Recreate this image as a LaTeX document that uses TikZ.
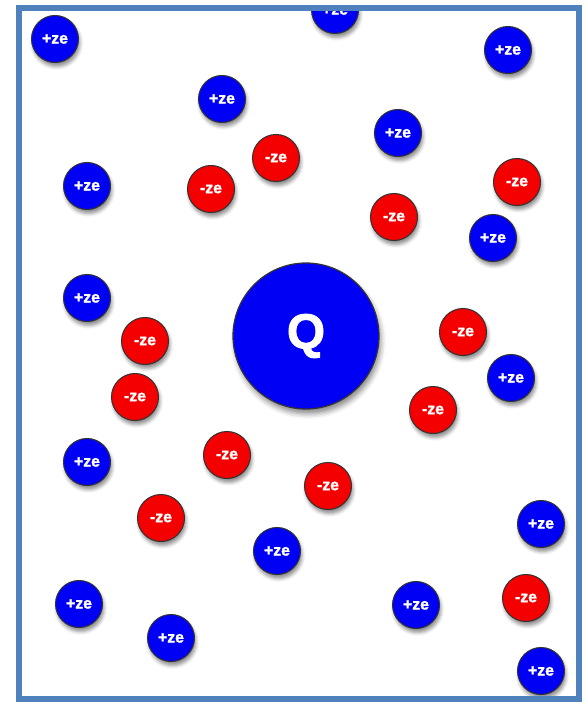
\documentclass[tikz,border=0pt]{standalone}
\usepackage{fontspec}
\setmainfont{Liberation Sans}
\newfontfamily\ionfont[BoldFeatures={FakeBold=1.6}]{Liberation Sans}
\usepackage{tikz}
\usetikzlibrary{shadows.blur}
\definecolor{framecol}{HTML}{4F81BD}
\definecolor{posblue}{HTML}{0000F5}
\definecolor{negred}{HTML}{F50000}
\tikzset{
  ion/.style={circle, draw=black!80, line width=0.6pt, minimum size=0.94cm,
              inner sep=0pt, text=white, font=\ionfont\small\bfseries,
              blur shadow={shadow xshift=0.03cm, shadow yshift=-0.08cm, shadow blur radius=0.07cm,
                           shadow opacity=45}},
  cation/.style={ion, fill=posblue},
  anion/.style={ion, fill=negred},
  big/.style={circle, draw=black!80, line width=0.7pt, fill=posblue, minimum size=2.92cm,
              inner sep=0pt, text=white, font=\ionfont\fontsize{28}{30}\selectfont\bfseries,
              blur shadow={shadow xshift=0.04cm, shadow yshift=-0.1cm, shadow blur radius=0.1cm,
                           shadow opacity=45}},
  rim/.style={draw=framecol, line width=0.11cm},
}

\begin{document}
\begin{tikzpicture}[x=0.02cm,y=-0.02cm]
  \useasboundingbox (0,0) rectangle (587,705);
  \begin{scope}
    \clip (19,8) rectangle (579,699);
    % central charge
    \node[big] (Q) at (306,336) {Q};
    % positive ions
    \node[cation] (p1) at (55,39) {+ze};
    \node[cation] (p2) at (335,10) {+ze};
    \node[cation] (p3) at (508,50) {+ze};
    \node[cation] (p4) at (222,99) {+ze};
    \node[cation] (p5) at (398,133) {+ze};
    \node[cation] (p6) at (87,186) {+ze};
    \node[cation] (p7) at (493,238) {+ze};
    \node[cation] (p8) at (87,298) {+ze};
    \node[cation] (p9) at (511,378) {+ze};
    \node[cation] (p10) at (87,462) {+ze};
    \node[cation] (p11) at (541,524) {+ze};
    \node[cation] (p12) at (277,551) {+ze};
    \node[cation] (p13) at (79,604) {+ze};
    \node[cation] (p14) at (416,605) {+ze};
    \node[cation] (p15) at (171,638) {+ze};
    \node[cation] (p16) at (541,671) {+ze};
    % negative ions
    \node[anion] (n1) at (276,158) {-ze};
    \node[anion] (n2) at (211,189) {-ze};
    \node[anion] (n3) at (517,182) {-ze};
    \node[anion] (n4) at (394,217) {-ze};
    \node[anion] (n5) at (145,341) {-ze};
    \node[anion] (n6) at (463,332) {-ze};
    \node[anion] (n7) at (135,397) {-ze};
    \node[anion] (n8) at (433,410) {-ze};
    \node[anion] (n9) at (227,455) {-ze};
    \node[anion] (n10) at (328,486) {-ze};
    \node[anion] (n11) at (161,518) {-ze};
    \node[anion] (n12) at (526,598) {-ze};
  \end{scope}
  \draw[rim] (19,8) rectangle (579,699);
\end{tikzpicture}
\end{document}
